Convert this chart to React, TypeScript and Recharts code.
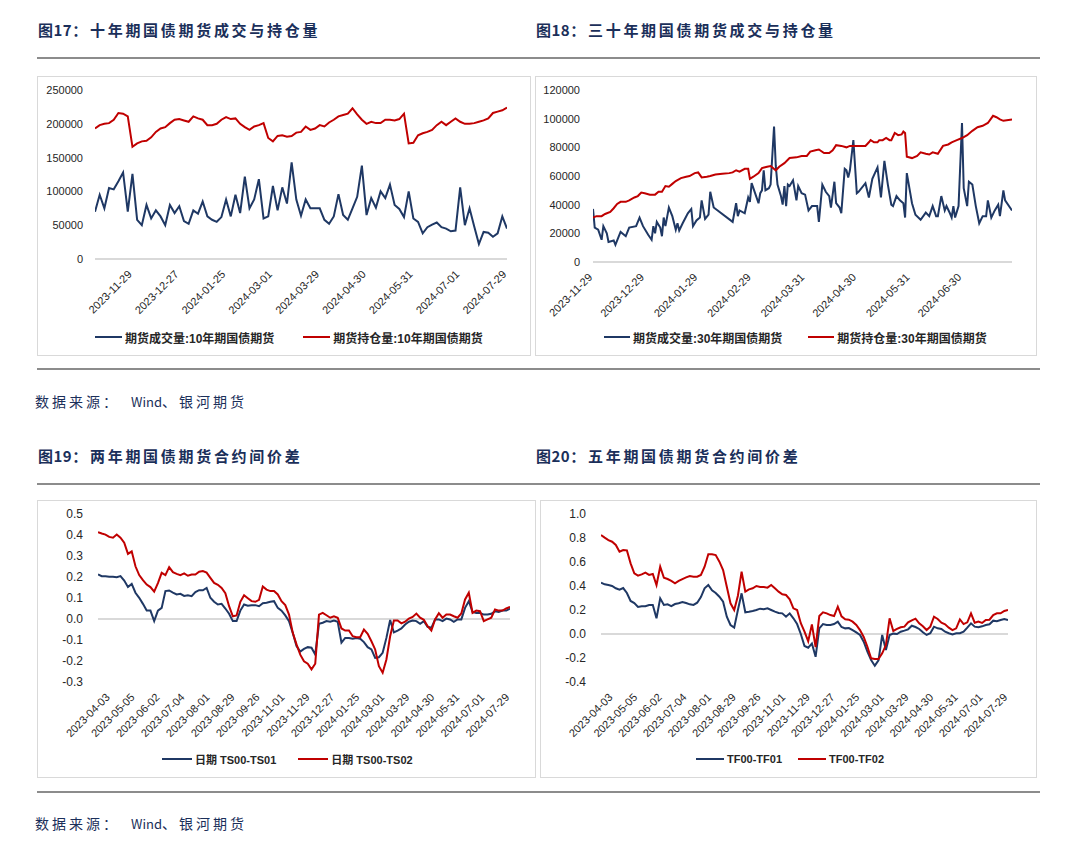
import React from "react";
import { LineChart, Line, XAxis, YAxis, ReferenceLine } from "recharts";

const BLUE = "#1f3864";
const RED = "#c00000";
const INK = "#1b2f5a";
const AXIS_FONT = "'Liberation Sans', Arial, sans-serif";
const MIXED_FONT = "'Liberation Sans', 'Noto Sans CJK SC', sans-serif";

// 图17：十年期国债期货（每两个交易日取一点）
const tenYearLabels = [
  "2023-11-29", "2023-12-27", "2024-01-25", "2024-03-01", "2024-03-29",
  "2024-04-30", "2024-05-31", "2024-07-01", "2024-07-29",
];
const tenYearVolume = [
  70000, 95000, 75000, 105000, 103000, 115000, 128000, 70000, 126000, 58000,
  50000, 80000, 60000, 72000, 63000, 50000, 80000, 68000, 78000, 56000,
  52000, 72000, 67000, 85000, 63000, 58000, 55000, 62000, 88000, 63000,
  95000, 68000, 122000, 75000, 88000, 118000, 60000, 63000, 108000, 72000,
  106000, 82000, 143000, 88000, 64000, 88000, 75000, 75000, 75000, 58000,
  52000, 63000, 96000, 65000, 58000, 75000, 92000, 138000, 65000, 90000,
  76000, 100000, 90000, 110000, 80000, 74000, 62000, 100000, 60000, 55000,
  38000, 47000, 51000, 54000, 47000, 45000, 41000, 42000, 106000, 50000,
  75000, 48000, 22000, 40000, 39000, 33000, 38000, 63000, 45000,
];
const tenYearOpenInterest = [
  193000, 198000, 200000, 201000, 206000, 216000, 215000, 211000, 166000, 171000,
  174000, 175000, 180000, 188000, 193000, 195000, 201000, 206000, 207000, 205000,
  203000, 211000, 208000, 206000, 198000, 198000, 200000, 206000, 210000, 207000,
  208000, 200000, 195000, 191000, 196000, 198000, 201000, 179000, 174000, 182000,
  183000, 181000, 182000, 187000, 188000, 196000, 191000, 193000, 198000, 196000,
  202000, 206000, 211000, 213000, 215000, 223000, 214000, 206000, 200000, 203000,
  201000, 201000, 206000, 206000, 205000, 207000, 215000, 171000, 172000, 183000,
  186000, 188000, 191000, 198000, 203000, 198000, 203000, 208000, 203000, 200000,
  200000, 201000, 203000, 205000, 208000, 216000, 218000, 220000, 224000,
];
const tenYearYTicks = [0, 50000, 100000, 150000, 200000, 250000];

// 图18：三十年期国债期货（日期轴）
const thirtyLabels = [
  "2023-11-29", "2023-12-29", "2024-01-29", "2024-02-29",
  "2024-03-31", "2024-04-30", "2024-05-31", "2024-06-30",
];
const thirtyStart = "2023-11-29";
const thirtyEnd = "2024-07-29";
const thirtyVolumeDates = [
  "2023-11-29", "2023-11-30", "2023-12-02", "2023-12-04", "2023-12-05", "2023-12-07", "2023-12-08", "2023-12-11", "2023-12-12", "2023-12-14",
  "2023-12-15", "2023-12-18", "2023-12-20", "2023-12-24", "2023-12-26", "2023-12-28", "2023-12-31", "2024-01-02", "2024-01-03", "2024-01-04",
  "2024-01-05", "2024-01-07", "2024-01-08", "2024-01-09", "2024-01-10", "2024-01-12", "2024-01-14", "2024-01-16", "2024-01-17", "2024-01-18",
  "2024-01-20", "2024-01-23", "2024-01-25", "2024-01-26", "2024-01-28", "2024-01-30", "2024-01-31", "2024-02-02", "2024-02-04", "2024-02-05",
  "2024-02-07", "2024-02-18", "2024-02-20", "2024-02-21", "2024-02-22", "2024-02-25", "2024-02-27", "2024-02-28", "2024-02-29", "2024-03-02",
  "2024-03-04", "2024-03-05", "2024-03-06", "2024-03-07", "2024-03-08", "2024-03-10", "2024-03-11", "2024-03-13", "2024-03-14", "2024-03-15",
  "2024-03-17", "2024-03-18", "2024-03-19", "2024-03-20", "2024-03-21", "2024-03-22", "2024-03-24", "2024-03-26", "2024-03-27", "2024-03-29",
  "2024-03-31", "2024-04-02", "2024-04-04", "2024-04-07", "2024-04-08", "2024-04-10", "2024-04-12", "2024-04-14", "2024-04-15", "2024-04-17",
  "2024-04-18", "2024-04-20", "2024-04-21", "2024-04-23", "2024-04-24", "2024-04-25", "2024-04-26", "2024-04-28", "2024-04-30", "2024-05-01",
  "2024-05-05", "2024-05-07", "2024-05-09", "2024-05-12", "2024-05-14", "2024-05-16", "2024-05-18", "2024-05-20", "2024-05-21", "2024-05-23",
  "2024-05-25", "2024-05-27", "2024-05-28", "2024-05-29", "2024-05-31", "2024-06-01", "2024-06-03", "2024-06-06", "2024-06-09", "2024-06-11",
  "2024-06-13", "2024-06-15", "2024-06-16", "2024-06-18", "2024-06-20", "2024-06-21", "2024-06-23", "2024-06-24", "2024-06-25", "2024-06-26",
  "2024-06-28", "2024-06-30", "2024-07-01", "2024-07-03", "2024-07-04", "2024-07-06", "2024-07-08", "2024-07-10", "2024-07-12", "2024-07-14",
  "2024-07-15", "2024-07-17", "2024-07-19", "2024-07-21", "2024-07-22", "2024-07-24", "2024-07-25", "2024-07-29",
];
const thirtyVolume = [
  37000, 24000, 22500, 15500, 25000, 20000, 14000, 15000, 12000, 18000,
  21000, 18000, 24000, 25000, 31000, 25000, 19000, 15500, 25000, 20000,
  28000, 24000, 18000, 31000, 25000, 38000, 32000, 22500, 27000, 22000,
  27000, 34000, 37000, 25000, 29000, 31000, 43000, 30000, 33000, 49000,
  38000, 28000, 41000, 32000, 36000, 34000, 45000, 42000, 55000, 48000,
  41000, 48000, 50000, 64000, 50000, 51500, 54000, 94500, 67000, 54000,
  46000, 40000, 53000, 39000, 54000, 53000, 57000, 43000, 53000, 48000,
  47000, 36000, 39000, 39000, 28000, 54000, 49000, 46000, 38000, 56000,
  41000, 38000, 34000, 65000, 64000, 59000, 64000, 85000, 48000, 49000,
  55000, 45000, 58000, 66000, 45000, 70500, 54000, 40000, 39000, 46000,
  43000, 41000, 31000, 62000, 48000, 41000, 33000, 29500, 34500, 32000,
  39000, 32000, 32000, 46000, 36000, 39000, 34000, 31000, 39000, 31000,
  39000, 97000, 51500, 39000, 56000, 54000, 39000, 27000, 32000, 32000,
  43000, 31000, 36000, 40000, 32000, 50000, 43000, 36000,
];
const thirtyOpenInterestDates = [
  "2023-11-29", "2023-12-01", "2023-12-04", "2023-12-06", "2023-12-09", "2023-12-11", "2023-12-13", "2023-12-15", "2023-12-18", "2023-12-20",
  "2023-12-23", "2023-12-25", "2023-12-27", "2023-12-29", "2024-01-01", "2024-01-04", "2024-01-06", "2024-01-08", "2024-01-10", "2024-01-12",
  "2024-01-14", "2024-01-16", "2024-01-19", "2024-01-22", "2024-01-24", "2024-01-27", "2024-01-29", "2024-01-31", "2024-02-03", "2024-02-05",
  "2024-02-08", "2024-02-12", "2024-02-16", "2024-02-18", "2024-02-20", "2024-02-22", "2024-02-25", "2024-02-27", "2024-02-28", "2024-03-01",
  "2024-03-04", "2024-03-06", "2024-03-09", "2024-03-11", "2024-03-14", "2024-03-16", "2024-03-19", "2024-03-22", "2024-03-26", "2024-03-29",
  "2024-04-01", "2024-04-03", "2024-04-06", "2024-04-08", "2024-04-11", "2024-04-14", "2024-04-16", "2024-04-18", "2024-04-21", "2024-04-24",
  "2024-04-26", "2024-04-28", "2024-05-01", "2024-05-05", "2024-05-07", "2024-05-08", "2024-05-10", "2024-05-12", "2024-05-13", "2024-05-15",
  "2024-05-17", "2024-05-19", "2024-05-20", "2024-05-22", "2024-05-24", "2024-05-26", "2024-05-27", "2024-05-28", "2024-05-29", "2024-06-01",
  "2024-06-04", "2024-06-06", "2024-06-09", "2024-06-11", "2024-06-13", "2024-06-16", "2024-06-19", "2024-06-22", "2024-06-24", "2024-06-27",
  "2024-06-30", "2024-07-03", "2024-07-06", "2024-07-09", "2024-07-12", "2024-07-15", "2024-07-18", "2024-07-20", "2024-07-22", "2024-07-24",
  "2024-07-29",
];
const thirtyOpenInterest = [
  31000, 32000, 32000, 33500, 35000, 37500, 40500, 42000, 42000, 43000,
  45000, 46000, 48500, 48000, 47000, 47000, 49000, 49000, 53000, 52500,
  54500, 56500, 58500, 59500, 60000, 62000, 62500, 59000, 59500, 60000,
  61000, 61500, 62000, 62500, 64000, 63000, 65000, 65000, 58000, 59500,
  62000, 65500, 66500, 67000, 64000, 66500, 69000, 72500, 73000, 74000,
  74000, 77000, 78000, 78500, 76000, 76000, 78000, 81500, 81000, 80000,
  81000, 81000, 81000, 81000, 83500, 85000, 83500, 83500, 85000, 85000,
  86500, 85000, 85000, 90000, 88500, 89000, 91000, 90000, 73500, 72500,
  74000, 76500, 75500, 75000, 76500, 75500, 81000, 82000, 83500, 85000,
  86500, 88500, 91500, 94000, 95000, 97000, 102000, 101000, 99500, 98500,
  99500,
];
const thirtyYTicks = [0, 20000, 40000, 60000, 80000, 100000, 120000];

// 图19/图20：合约间价差（每三个交易日取一点）
const spreadLabels = [
  "2023-04-03", "2023-05-05", "2023-06-02", "2023-07-04", "2023-08-01", "2023-08-29",
  "2023-09-26", "2023-11-01", "2023-11-29", "2023-12-27", "2024-01-25", "2024-03-01",
  "2024-03-29", "2024-04-30", "2024-05-31", "2024-07-01", "2024-07-29",
];
const ts01 = [
  0.212, 0.204, 0.204, 0.201, 0.201, 0.199, 0.204, 0.183, 0.152, 0.167,
  0.125, 0.101, 0.072, 0.04, 0.04, -0.01, 0.04, 0.053, 0.133, 0.136,
  0.126, 0.117, 0.12, 0.11, 0.113, 0.109, 0.128, 0.137, 0.137, 0.148,
  0.101, 0.082, 0.069, 0.072, 0.05, 0.025, -0.01, -0.01, 0.04, 0.069,
  0.063, 0.066, 0.066, 0.061, 0.075, 0.077, 0.082, 0.085, 0.053, 0.04,
  0.017, -0.01, -0.066, -0.129, -0.155, -0.142, -0.134, -0.137, -0.169, -0.023,
  -0.018, -0.01, -0.013, -0.007, -0.013, -0.113, -0.09, -0.09, -0.094, -0.09,
  -0.094, -0.11, -0.134, -0.145, -0.185, -0.182, -0.161, -0.09, -0.005, -0.064,
  -0.055, -0.045, -0.026, -0.013, -0.007, -0.01, -0.023, -0.01, -0.037, -0.042,
  -0.002, -0.002, -0.01, 0.002, -0.002, -0.013, -0.002, -0.002, 0.053, 0.085,
  0.034, 0.029, 0.029, 0.021, 0.021, 0.025, 0.037, 0.034, 0.04, 0.04, 0.05,
];
const ts02 = [
  0.413, 0.407, 0.402, 0.391, 0.387, 0.402, 0.387, 0.363, 0.31, 0.322,
  0.251, 0.209, 0.185, 0.164, 0.152, 0.13, 0.171, 0.22, 0.209, 0.247,
  0.223, 0.215, 0.209, 0.217, 0.206, 0.212, 0.212, 0.225, 0.228, 0.221,
  0.196, 0.172, 0.163, 0.148, 0.123, 0.061, 0.013, 0.017, 0.082, 0.113,
  0.099, 0.085, 0.082, 0.091, 0.155, 0.14, 0.133, 0.133, 0.117, 0.085,
  0.066, 0.021, -0.066, -0.121, -0.17, -0.201, -0.213, -0.24, -0.213, 0.021,
  0.029, 0.018, 0.006, 0.013, 0.006, -0.045, -0.055, -0.055, -0.082, -0.087,
  -0.087, -0.05, -0.071, -0.106, -0.145, -0.225, -0.256, -0.193, -0.082, -0.007,
  -0.007, -0.021, -0.013, 0.002, 0.01, 0.026, 0.006, -0.004, -0.034, -0.055,
  -0.002, 0.028, 0.006, 0.021, 0.021, 0.013, 0.006, 0.026, 0.093, 0.125,
  0.029, 0.04, 0.037, -0.01, -0.002, 0.006, 0.045, 0.04, 0.04, 0.05, 0.058,
];
const tf01 = [
  0.428, 0.414, 0.408, 0.4, 0.381, 0.369, 0.383, 0.342, 0.275, 0.258,
  0.225, 0.231, 0.231, 0.242, 0.242, 0.131, 0.297, 0.242, 0.247, 0.233,
  0.25, 0.256, 0.267, 0.258, 0.247, 0.242, 0.261, 0.308, 0.381, 0.408,
  0.364, 0.342, 0.311, 0.269, 0.144, 0.075, 0.053, 0.2, 0.339, 0.181,
  0.186, 0.192, 0.2, 0.211, 0.206, 0.214, 0.2, 0.186, 0.175, 0.172,
  0.144, 0.172, 0.131, 0.083, 0.0, -0.1, -0.114, -0.08, -0.19, 0.047,
  0.083, 0.075, 0.075, 0.083, 0.103, 0.058, 0.047, 0.05, 0.033, 0.014,
  -0.008, -0.064, -0.147, -0.217, -0.264, -0.219, -0.008, -0.133, -0.008, 0.003,
  0.0, 0.019, 0.028, 0.039, 0.069, 0.058, 0.042, 0.014, -0.008, 0.006,
  0.061, 0.047, 0.042, 0.019, 0.006, -0.003, 0.006, 0.006, 0.019, 0.053,
  0.089, 0.061, 0.056, 0.064, 0.075, 0.081, 0.111, 0.106, 0.117, 0.125, 0.117,
];
const tf02 = [
  0.825, 0.803, 0.783, 0.769, 0.742, 0.686, 0.7, 0.697, 0.589, 0.506,
  0.486, 0.497, 0.511, 0.492, 0.5, 0.408, 0.561, 0.469, 0.458, 0.442,
  0.422, 0.442, 0.458, 0.472, 0.483, 0.478, 0.478, 0.492, 0.561, 0.664,
  0.664, 0.658, 0.603, 0.533, 0.394, 0.256, 0.2, 0.319, 0.519, 0.353,
  0.372, 0.381, 0.4, 0.392, 0.392, 0.386, 0.408, 0.381, 0.353, 0.331,
  0.325, 0.289, 0.214, 0.2, 0.09, 0.02, -0.06, 0.08, -0.11, 0.15,
  0.181, 0.172, 0.158, 0.15, 0.228, 0.147, 0.122, 0.119, 0.103, 0.075,
  0.033, -0.025, -0.106, -0.203, -0.208, -0.208, -0.161, -0.092, 0.131, 0.025,
  0.042, 0.056, 0.061, 0.097, 0.114, 0.128, 0.089, 0.064, 0.033, 0.061,
  0.144, 0.125, 0.094, 0.081, 0.053, 0.033, 0.047, 0.122, 0.083, 0.097,
  0.172, 0.094, 0.103, 0.092, 0.117, 0.119, 0.158, 0.172, 0.172, 0.192, 0.2,
];
const tsYTicks = [-0.3, -0.2, -0.1, 0, 0.1, 0.2, 0.3, 0.4, 0.5];
const tfYTicks = [-0.4, -0.2, 0, 0.2, 0.4, 0.6, 0.8, 1.0];

type Pt = { x: number; y: number };
const byIndex = (ys: number[]): Pt[] => ys.map((y, i) => ({ x: i, y }));
const byDate = (dates: string[], ys: number[]): Pt[] =>
  ys.map((y, i) => ({ x: Date.parse(dates[i]), y }));
// label every `step` samples, counted back from the last one (like Excel's label interval)
const labelTicks = (labels: string[], last: number, step: number) =>
  labels.map((_, j) => last - (labels.length - 1 - j) * step);

type Series = { name: string; color: string; points: Pt[] };
type PanelProps = {
  box: { left: number; top: number; width: number; height: number };
  plot: { left: number; right: number; top: number; bottom: number };
  xDomain: [number, number];
  xTicks: number[];
  xLabels: string[];
  yDomain: [number, number];
  yTicks: number[];
  yFormat: (v: number) => string;
  yFont: number;
  yGap: number;
  series: Series[];
  legend: { top: number; left: number; line: number; gap: number; font: number };
};

const X_AXIS_H = 60;

function DateTick(props: any) {
  const { x, y, payload, ticks, labels } = props;
  let best = 0;
  ticks.forEach((t: number, i: number) => {
    if (Math.abs(t - payload.value) < Math.abs(ticks[best] - payload.value)) best = i;
  });
  const ty = y + 16;
  return (
    <text
      x={x}
      y={ty}
      transform={`rotate(-45 ${x} ${ty})`}
      textAnchor="end"
      fontSize={11}
      fontFamily={AXIS_FONT}
      fill="#262626"
    >
      {labels[best]}
    </text>
  );
}

function Panel(p: PanelProps) {
  const { box, plot } = p;
  const margin = {
    top: plot.top - box.top,
    right: box.left + box.width - plot.right,
    left: 0,
    bottom: box.top + box.height - plot.bottom - X_AXIS_H,
  };
  return (
    <>
      <div
        style={{
          position: "absolute",
          left: box.left,
          top: box.top,
          width: box.width,
          height: box.height,
          border: "1px solid #d9d9d9",
          boxSizing: "border-box",
        }}
      />
      <div style={{ position: "absolute", left: box.left, top: box.top }}>
        <LineChart width={box.width} height={box.height} margin={margin}>
          <XAxis
            type="number"
            dataKey="x"
            domain={p.xDomain}
            ticks={p.xTicks}
            interval={0}
            axisLine={false}
            tickLine={false}
            tickSize={0}
            tickMargin={0}
            height={X_AXIS_H}
            allowDataOverflow
            tick={(tp: any) => <DateTick {...tp} ticks={p.xTicks} labels={p.xLabels} />}
          />
          <YAxis
            type="number"
            domain={p.yDomain}
            ticks={p.yTicks}
            interval={0}
            axisLine={false}
            tickLine={false}
            tickSize={0}
            tickMargin={p.yGap}
            width={plot.left - box.left}
            tickFormatter={p.yFormat}
            tick={{ fontSize: p.yFont, fill: "#262626", fontFamily: AXIS_FONT }}
          />
          <ReferenceLine y={0} stroke="#d9d9d9" strokeWidth={2} />
          {p.series.map((s) => (
            <Line
              key={s.name}
              data={s.points}
              dataKey="y"
              name={s.name}
              type="linear"
              stroke={s.color}
              strokeWidth={2}
              dot={false}
              activeDot={false}
              isAnimationActive={false}
            />
          ))}
        </LineChart>
      </div>
      <div
        style={{
          position: "absolute",
          left: p.legend.left,
          top: p.legend.top - 8,
          height: 16,
          display: "flex",
          alignItems: "center",
          fontFamily: MIXED_FONT,
          fontWeight: 700,
          fontSize: p.legend.font,
          color: "#262626",
          whiteSpace: "nowrap",
        }}
      >
        {p.series.map((s) => (
          <div key={s.name} style={{ display: "flex", alignItems: "center", marginRight: p.legend.gap }}>
            <span
              style={{
                display: "inline-block",
                width: p.legend.line,
                height: 2.5,
                background: s.color,
                marginRight: 3,
              }}
            />
            <span>{s.name}</span>
          </div>
        ))}
      </div>
    </>
  );
}

function Title({ left, top, prefix, text }: { left: number; top: number; prefix: string; text: string }) {
  const base = {
    position: "absolute" as const,
    top,
    fontFamily: "'Noto Sans CJK SC', sans-serif",
    fontWeight: 700,
    fontSize: 15,
    lineHeight: "16px",
    color: INK,
    whiteSpace: "nowrap" as const,
  };
  return (
    <>
      <div style={{ ...base, left, letterSpacing: 0.5 }}>{prefix}</div>
      <div style={{ ...base, left: left + 52, letterSpacing: 2.7 }}>{text}</div>
    </>
  );
}

function Source({ top }: { top: number }) {
  const base = {
    position: "absolute" as const,
    top,
    fontFamily: "'Noto Sans CJK SC', sans-serif",
    fontSize: 14,
    lineHeight: "16px",
    color: INK,
    whiteSpace: "nowrap" as const,
  };
  return (
    <>
      <div style={{ ...base, left: 35, letterSpacing: 3 }}>数据来源：</div>
      <div style={{ ...base, left: 131 }}>
        <span style={{ fontSize: 13 }}>Wind</span>
        <span style={{ letterSpacing: 3 }}>、银河期货</span>
      </div>
    </>
  );
}

function Rule({ top }: { top: number }) {
  return (
    <div style={{ position: "absolute", left: 37, top, width: 1003, height: 2, background: "#8c8c8c" }} />
  );
}

const intFormat = (v: number) => String(v);
const oneDecimal = (v: number) => v.toFixed(1);

export default function App() {
  const tenLast = tenYearVolume.length - 1;
  const spreadLast = ts01.length - 1;
  const spreadTicks = labelTicks(spreadLabels, spreadLast, 20 / 3);

  return (
    <div style={{ position: "absolute", left: 0, top: 0, width: 1080, height: 842, background: "#fff" }}>
      <Title left={38} top={22} prefix="图17：" text="十年期国债期货成交与持仓量" />
      <Title left={536} top={22} prefix="图18：" text="三十年期国债期货成交与持仓量" />
      <Rule top={57} />

      <Panel
        box={{ left: 37, top: 76, width: 494, height: 280 }}
        plot={{ left: 95, right: 507, top: 90, bottom: 259 }}
        xDomain={[0, tenLast]}
        xTicks={labelTicks(tenYearLabels, tenLast, 10)}
        xLabels={tenYearLabels}
        yDomain={[0, 250000]}
        yTicks={tenYearYTicks}
        yFormat={intFormat}
        yFont={11}
        yGap={12}
        series={[
          { name: "期货成交量:10年期国债期货", color: BLUE, points: byIndex(tenYearVolume) },
          { name: "期货持仓量:10年期国债期货", color: RED, points: byIndex(tenYearOpenInterest) },
        ]}
        legend={{ top: 337, left: 95, line: 27, gap: 29, font: 12 }}
      />

      <Panel
        box={{ left: 535, top: 76, width: 502, height: 280 }}
        plot={{ left: 593, right: 1012, top: 90, bottom: 262 }}
        xDomain={[Date.parse(thirtyStart), Date.parse(thirtyEnd)]}
        xTicks={thirtyLabels.map((d) => Date.parse(d))}
        xLabels={thirtyLabels}
        yDomain={[0, 120000]}
        yTicks={thirtyYTicks}
        yFormat={intFormat}
        yFont={11}
        yGap={13}
        series={[
          { name: "期货成交量:30年期国债期货", color: BLUE, points: byDate(thirtyVolumeDates, thirtyVolume) },
          { name: "期货持仓量:30年期国债期货", color: RED, points: byDate(thirtyOpenInterestDates, thirtyOpenInterest) },
        ]}
        legend={{ top: 337, left: 604, line: 26, gap: 26, font: 12 }}
      />

      <Rule top={368} />
      <Source top={393} />

      <Title left={38} top={448} prefix="图19：" text="两年期国债期货合约间价差" />
      <Title left={536} top={448} prefix="图20：" text="五年期国债期货合约间价差" />
      <Rule top={483} />

      <Panel
        box={{ left: 37, top: 500, width: 499, height: 278 }}
        plot={{ left: 98, right: 510, top: 514, bottom: 682 }}
        xDomain={[0, spreadLast]}
        xTicks={spreadTicks}
        xLabels={spreadLabels}
        yDomain={[-0.3, 0.5]}
        yTicks={tsYTicks}
        yFormat={oneDecimal}
        yFont={12}
        yGap={15}
        series={[
          { name: "日期 TS00-TS01", color: BLUE, points: byIndex(ts01) },
          { name: "日期 TS00-TS02", color: RED, points: byIndex(ts02) },
        ]}
        legend={{ top: 759, left: 162, line: 30, gap: 22, font: 11 }}
      />

      <Panel
        box={{ left: 540, top: 500, width: 497, height: 278 }}
        plot={{ left: 601, right: 1008, top: 514, bottom: 682 }}
        xDomain={[0, spreadLast]}
        xTicks={spreadTicks}
        xLabels={spreadLabels}
        yDomain={[-0.4, 1.0]}
        yTicks={tfYTicks}
        yFormat={oneDecimal}
        yFont={12}
        yGap={15}
        series={[
          { name: "TF00-TF01", color: BLUE, points: byIndex(tf01) },
          { name: "TF00-TF02", color: RED, points: byIndex(tf02) },
        ]}
        legend={{ top: 759, left: 696, line: 28, gap: 16, font: 11 }}
      />

      <Rule top={791} />
      <Source top={815} />
    </div>
  );
}
